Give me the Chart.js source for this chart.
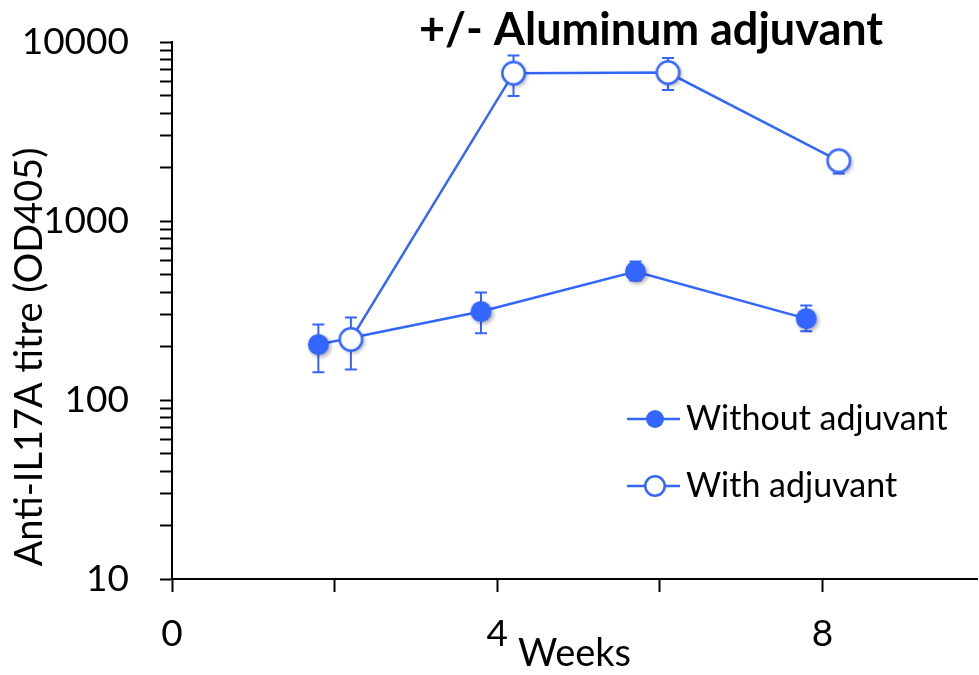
<!DOCTYPE html>
<html>
<head>
<meta charset="utf-8">
<script src="https://cdn.jsdelivr.net/npm/chart.js@4/dist/chart.umd.min.js"></script>
<style>
  html, body { margin: 0; padding: 0; background: #fff; }
  canvas { display: block; }
</style>
</head>
<body>
<canvas id="chart" width="979" height="675"></canvas>
<script>
// Anti-IL17A titre over time, with and without aluminum adjuvant (mean with error range)
const weeksWithout = [1.8, 3.8, 5.7, 7.8];
const titreWithout = [204, 312, 522, 285];
const upperWithout = [264, 399, 594, 337];
const lowerWithout = [143, 236, 465, 242];

const weeksWith = [2.2, 4.2, 6.1, 8.2];
const titreWith = [218, 6700, 6750, 2170];
const upperWith = [289, 8400, 8150, 2450];
const lowerWith = [148, 5000, 5400, 1840];

const seriesNames = ['Without adjuvant', 'With adjuvant'];
const yTickLabels = [10, 100, 1000, 10000];
const xTickLabels = [0, 4, 8];
const xTickMarks = [0, 2, 4, 6, 8];

const chartTitle = '+/- Aluminum adjuvant';
const yTitle = 'Anti-IL17A titre (OD405)';
const xTitle = 'Weeks';

const BLUE = '#3366ff';
const FONT = 'Lato, "Open Sans", sans-serif';

// Circle markers, optionally with a soft drop shadow
function makeMarker(filled, r, shadow) {
  const pad = 7;
  const size = Math.ceil(2 * (r + pad));
  const cv = document.createElement('canvas');
  cv.width = size; cv.height = size;
  const g = cv.getContext('2d');
  if (shadow) {
    g.shadowColor = 'rgba(0,0,0,0.35)';
    g.shadowBlur = 4;
    g.shadowOffsetX = 2;
    g.shadowOffsetY = 2;
  }
  g.beginPath();
  g.arc(size / 2, size / 2, filled ? r : r - 1.25, 0, Math.PI * 2);
  g.fillStyle = filled ? BLUE : '#ffffff';
  g.fill();
  g.shadowColor = 'transparent';
  if (!filled) {
    g.lineWidth = 2.5;
    g.strokeStyle = BLUE;
    g.stroke();
  }
  return cv;
}
const markerFilled = makeMarker(true, 10.5, true);
const markerOpen = makeMarker(false, 12.5, true);
const legendFilled = makeMarker(true, 9, false);
const legendOpen = makeMarker(false, 11, false);

// Log-axis tick marks: every 1..9 multiple within each decade
const yTickMarks = [];
for (let d = 0; d < yTickLabels.length - 1; d++) {
  for (let m = 1; m <= 9; m++) yTickMarks.push(yTickLabels[d] * m);
}
yTickMarks.push(yTickLabels[yTickLabels.length - 1]);

// Vertical error bars with caps, drawn beneath the markers
const errorBars = {
  id: 'errorBars',
  beforeDatasetsDraw(chart) {
    const { ctx, scales: { x, y } } = chart;
    const sets = [
      [weeksWithout, upperWithout, lowerWithout],
      [weeksWith, upperWith, lowerWith]
    ];
    ctx.save();
    ctx.strokeStyle = BLUE;
    ctx.lineWidth = 2;
    const cap = 6;
    sets.forEach(([xs, hi, lo]) => {
      xs.forEach((xv, i) => {
        const px = x.getPixelForValue(xv);
        const pHi = y.getPixelForValue(hi[i]);
        const pLo = y.getPixelForValue(lo[i]);
        ctx.beginPath();
        ctx.moveTo(px, pHi); ctx.lineTo(px, pLo);
        ctx.moveTo(px - cap, pHi); ctx.lineTo(px + cap, pHi);
        ctx.moveTo(px - cap, pLo); ctx.lineTo(px + cap, pLo);
        ctx.stroke();
      });
    });
    ctx.restore();
  }
};

// Title, rotated y-axis title and in-plot legend
const annotations = {
  id: 'annotations',
  afterDraw(chart) {
    const { ctx } = chart;
    ctx.save();
    ctx.fillStyle = '#000';

    ctx.font = 'bold 45px ' + FONT;
    ctx.textAlign = 'center';
    ctx.textBaseline = 'middle';
    ctx.fillText(chartTitle, 651, 30);

    ctx.save();
    ctx.translate(30, 357);
    ctx.rotate(-Math.PI / 2);
    ctx.font = '38px ' + FONT;
    ctx.fillText(yTitle, 0, 0);
    ctx.restore();

    const rows = [[419, legendFilled], [486, legendOpen]];
    ctx.font = '34px ' + FONT;
    ctx.textAlign = 'left';
    rows.forEach(([ly, mk], i) => {
      ctx.strokeStyle = BLUE;
      ctx.lineWidth = 2.5;
      ctx.beginPath();
      ctx.moveTo(627, ly); ctx.lineTo(680, ly);
      ctx.stroke();
      ctx.drawImage(mk, 655 - mk.width / 2, ly - mk.height / 2);
      ctx.fillStyle = '#000';
      ctx.fillText(seriesNames[i], 686, ly);
    });
    ctx.restore();
  }
};

const toPoints = (xs, ys) => xs.map((xv, i) => ({ x: xv, y: ys[i] }));

new Chart(document.getElementById('chart'), {
  type: 'line',
  data: {
    datasets: [
      {
        label: seriesNames[0],
        data: toPoints(weeksWithout, titreWithout),
        borderColor: BLUE,
        borderWidth: 2.5,
        pointStyle: markerFilled,
        pointRadius: 11,
        order: 1
      },
      {
        label: seriesNames[1],
        data: toPoints(weeksWith, titreWith),
        borderColor: BLUE,
        borderWidth: 2.5,
        pointStyle: markerOpen,
        pointRadius: 13,
        order: 0
      }
    ]
  },
  options: {
    responsive: false,
    animation: false,
    events: [],
    layout: { autoPadding: false, padding: { top: 42, right: 2, left: 0, bottom: 0 } },
    plugins: {
      legend: { display: false },
      title: { display: false },
      tooltip: { enabled: false }
    },
    scales: {
      x: {
        type: 'linear',
        min: 0,
        max: 9.9,
        afterFit(s) { s.height = 96; s.paddingLeft = 0; s.paddingRight = 0; },
        afterBuildTicks(s) { s.ticks = xTickMarks.map(v => ({ value: v })); },
        ticks: {
          autoSkip: false,
          maxRotation: 0,
          padding: 20,
          color: '#000',
          font: { family: FONT, size: 37 },
          callback: v => (xTickLabels.includes(v) ? String(v) : '')
        },
        grid: { drawOnChartArea: false, drawTicks: true, tickLength: 13, tickWidth: 2, tickColor: '#000' },
        border: { display: true, color: '#000', width: 2 },
        title: {
          display: true,
          text: xTitle,
          color: '#000',
          font: { family: FONT, size: 38, lineHeight: 1 },
          padding: { top: 0, bottom: 2 }
        }
      },
      y: {
        type: 'logarithmic',
        min: 10,
        max: 10000,
        afterFit(s) { s.width = 172; s.paddingTop = 0; s.paddingBottom = 0; },
        afterBuildTicks(s) { s.ticks = yTickMarks.map(v => ({ value: v })); },
        ticks: {
          autoSkip: false,
          padding: 31,
          color: '#000',
          font: { family: FONT, size: 37 },
          callback: v => (yTickLabels.includes(v) ? String(v) : '')
        },
        grid: { drawOnChartArea: false, drawTicks: true, tickLength: 12, tickWidth: 2, tickColor: '#000' },
        border: { display: true, color: '#000', width: 2 }
      }
    }
  },
  plugins: [errorBars, annotations]
});
</script>
</body>
</html>
